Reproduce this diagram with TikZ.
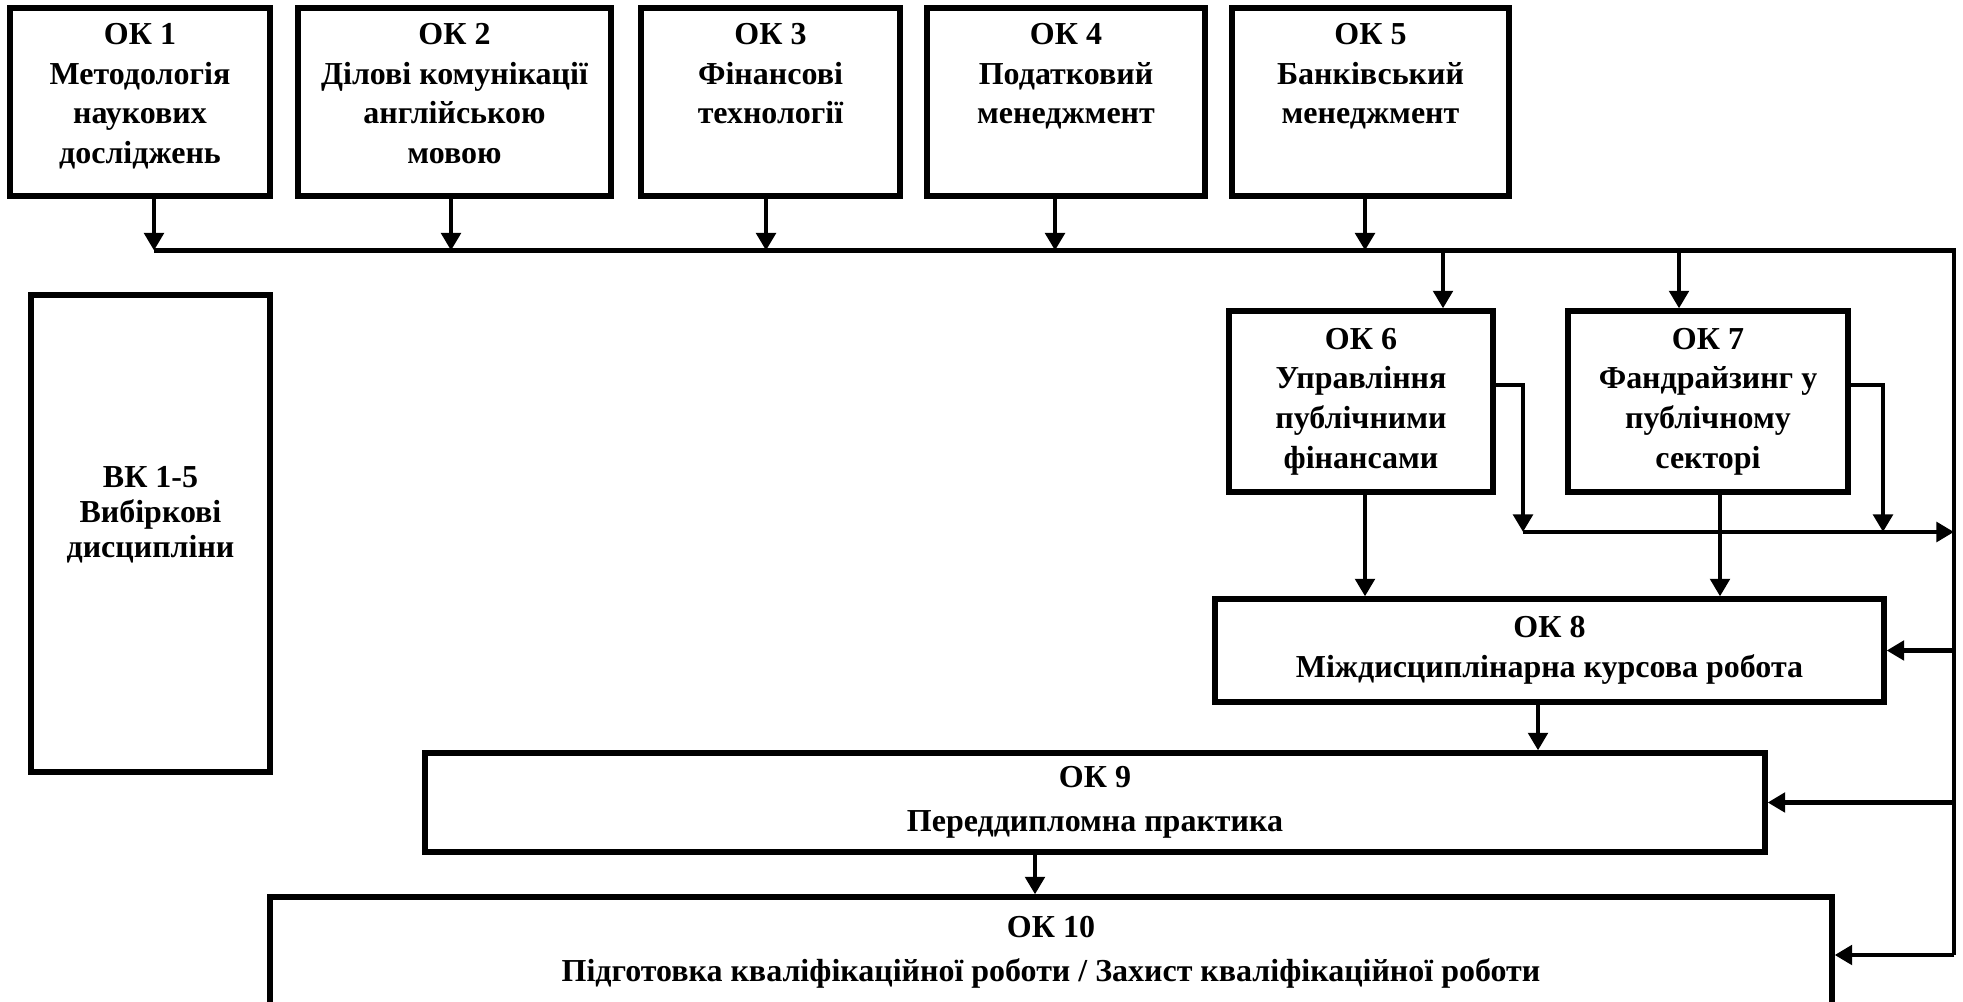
\documentclass[tikz,border=0pt]{standalone}
\usepackage{fontspec}
\setmainfont{Liberation Serif}
\usepackage{tikz}
\usetikzlibrary{positioning}
\usetikzlibrary{arrows.meta}

\begin{document}
\begin{tikzpicture}[
  okbox/.style={draw, line width=3pt, inner sep=0pt},
  lbl/.style={align=center, inner sep=0pt, font=\bfseries\fontsize{18.2pt}{22.6pt}\selectfont},
  wire/.style={line width=2.5pt},
  arr/.style={wire, -{Triangle[width=11pt,length=10pt]}}
]
\useasboundingbox (0,0) rectangle (39.26,20.04);
% First row of obligatory courses
\node[okbox, minimum width=5.2cm, minimum height=3.76cm] (ok1) at (2.8,18) {};
\node[okbox, minimum width=6.26cm, minimum height=3.76cm] (ok2) at (9.09,18) {};
\node[okbox, minimum width=5.18cm, minimum height=3.76cm] (ok3) at (15.41,18) {};
\node[okbox, minimum width=5.56cm, minimum height=3.76cm] (ok4) at (21.32,18) {};
\node[okbox, minimum width=5.54cm, minimum height=3.76cm] (ok5) at (27.41,18) {};
\node[lbl, below=0.35cm of ok1.north] (ok1t) {ОК 1\\Методологія\\наукових\\досліджень};
\node[lbl, below=0.35cm of ok2.north] (ok2t) {ОК 2\\Ділові комунікації\\англійською\\мовою};
\node[lbl, below=0.35cm of ok3.north] (ok3t) {ОК 3\\Фінансові\\технології};
\node[lbl, below=0.35cm of ok4.north] (ok4t) {ОК 4\\Податковий\\менеджмент};
\node[lbl, below=0.35cm of ok5.north] (ok5t) {ОК 5\\Банківський\\менеджмент};
% Elective courses
\node[okbox, minimum width=4.78cm, minimum height=9.54cm] (vk) at (3.01,9.37) {};
\node[lbl, font=\bfseries\fontsize{18.2pt}{19.8pt}\selectfont] (vkt) at (3.01,9.74) {ВК 1-5\\Вибіркові\\дисципліни};
% Second row
\node[okbox, lbl, minimum width=5.28cm, minimum height=3.62cm] (ok6) at (27.22,12.01) {ОК 6\\Управління\\публічними\\фінансами};
\node[okbox, lbl, minimum width=5.6cm, minimum height=3.62cm] (ok7) at (34.16,12.01) {ОК 7\\Фандрайзинг у\\публічному\\секторі};
% Wide boxes
\node[okbox, lbl, minimum width=13.38cm, minimum height=2.06cm] (ok8) at (30.99,7.03) {ОК 8\\Міждисциплінарна курсова робота};
\node[okbox, lbl, minimum width=26.8cm, minimum height=1.98cm] (ok9) at (21.9,3.99) {ОК 9\\[0.08cm]Переддипломна практика};
\node[okbox, minimum width=31.24cm, minimum height=2.6cm] (ok10) at (21.02,0.8) {};
\node[lbl] (ok10t) at (21.02,0.99) {ОК 10\\[0.08cm]Підготовка кваліфікаційної роботи / Захист кваліфікаційної роботи};

% Bus under the first row
\coordinate (b1) at (3.08,15.03);
\coordinate (b2) at (9.02,15.03);
\coordinate (b3) at (15.32,15.03);
\coordinate (b4) at (21.1,15.03);
\coordinate (b5) at (27.3,15.03);
\coordinate (b6) at (28.86,15.03);
\coordinate (b7) at (33.58,15.03);
\coordinate (br) at (39.08,15.03);
\coordinate (rb) at (39.08,0.94);
\draw[wire] (b1) -- (br) -- (rb);
\draw[arr] (ok1.south -| b1) -- (b1);
\draw[arr] (ok2.south -| b2) -- (b2);
\draw[arr] (ok3.south -| b3) -- (b3);
\draw[arr] (ok4.south -| b4) -- (b4);
\draw[arr] (ok5.south -| b5) -- (b5);
\draw[arr] (b6) -- (b6 |- ok6.north);
\draw[arr] (b7) -- (b7 |- ok7.north);
% Side links of OK 6 and OK 7
\coordinate (s6) at (30.46,12.34);
\coordinate (s7) at (37.66,12.34);
\coordinate (h6) at (30.46,9.4);
\coordinate (h7) at (37.66,9.4);
\coordinate (hr) at (39.08,9.4);
\draw[arr] (s6 -| ok6.east) -- (s6) -- (h6);
\draw[arr] (s7 -| ok7.east) -- (s7) -- (h7);
\draw[arr] (h6) -- (hr);
% Down the chain
\draw[arr] ([xshift=0.08cm]ok6.south) -- ([xshift=0.08cm]ok6.south |- ok8.north);
\draw[arr] ([xshift=0.24cm]ok7.south) -- ([xshift=0.24cm]ok7.south |- ok8.north);
\draw[arr] ([xshift=-0.23cm]ok8.south) -- ([xshift=-0.23cm]ok8.south |- ok9.north);
\draw[arr] ([xshift=-1.2cm]ok9.south) -- ([xshift=-1.2cm]ok9.south |- ok10.north);
% From the right line
\draw[arr] (ok8.east -| br) -- (ok8.east);
\draw[arr] (ok9.east -| br) -- (ok9.east);
\draw[arr] (rb) -- (rb -| ok10.east);
\end{tikzpicture}
\end{document}
